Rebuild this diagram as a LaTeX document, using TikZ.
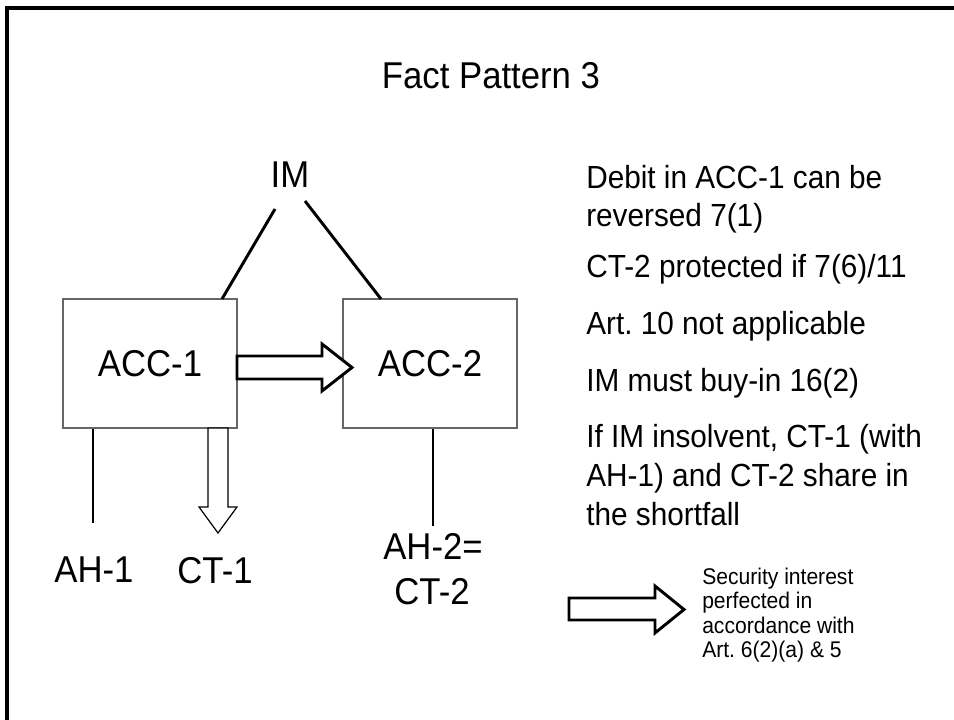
\documentclass[tikz,border=0pt]{standalone}
\usepackage{fontspec}
\setmainfont{Liberation Sans}[FakeStretch=0.93]
\frenchspacing
\begin{document}
\begin{tikzpicture}[x=0.75pt,y=-0.75pt,
  big/.style={font=\fontsize{28}{33}\selectfont, inner sep=0pt},
  note/.style={font=\fontsize{24}{28}\selectfont, inner sep=0pt, anchor=base west},
  small/.style={font=\fontsize{17}{20}\selectfont, inner sep=0pt, anchor=base west},
  acct/.style={draw=black!60, line width=0.9pt, minimum width=174*0.75pt, minimum height=129*0.75pt, inner sep=0pt, font=\fontsize{28}{33}\selectfont},
  link/.style={line width=2.2pt, black},
  fatarrow/.style={line width=2.2pt, draw=black, fill=white, line join=miter},
  thinarrow/.style={line width=0.9pt, draw=black, fill=white, line join=miter}
]
\useasboundingbox (0,0) rectangle (954,720);
% frame (top and left only)
\draw[line width=2.4pt] (7,720) -- (7,8) -- (954,8);

\node[big, anchor=base] (title) at (491,89) {Fact Pattern 3};
\node[big, anchor=base] (im) at (290,188) {IM};

\node[acct] (acc1) at (150,363.5) {ACC-1};
\node[acct] (acc2) at (430,363.5) {ACC-2};

\coordinate (imL) at (275,209);
\coordinate (imR) at (305,201);
\draw[link] (imL) -- (222,299);
\draw[link] (imR) -- (381,299);

% fat arrow ACC-1 -> ACC-2
\draw[fatarrow] (237,356) -- (322,356) -- (322,344) -- (352,367.5) -- (322,391) -- (322,379) -- (237,379) -- cycle;

% labels below
\node[big, anchor=base] (ah1) at (94,582) {AH-1};
\node[big, anchor=base] (ct1) at (215,583) {CT-1};
\node[big, anchor=base] (ah2) at (433,559) {AH-2=};
\node[big, anchor=base] (ct2) at (432,604) {CT-2};

\draw[link] (acc1.south -| 93,0) -- (93,523);
\draw[link] (acc2.south -| 433,0) -- (433,526);

% hollow down arrow to CT-1
\draw[thinarrow] (208,428) -- (228,428) -- (228,507) -- (237,507) -- (218,533) -- (199,507) -- (208,507) -- cycle;

% right notes
\node[note] (n1) at (586,189) {Debit in ACC-1 can be};
\node[note] (n2) at (586,227) {reversed 7(1)};
\node[note] (n3) at (586,278) {CT-2 protected if 7(6)/11};
\node[note] (n4) at (586,335) {Art. 10 not applicable};
\node[note] (n5) at (586,392) {IM must buy-in 16(2)};
\node[note] (n6) at (586,448) {If IM insolvent, CT-1 (with};
\node[note] (n7) at (586,487) {AH-1) and CT-2 share in};
\node[note] (n8) at (586,525) {the shortfall};

% bottom arrow and small text
\draw[fatarrow] (569,598) -- (655,598) -- (655,586) -- (684,609.5) -- (655,633) -- (655,620) -- (569,620) -- cycle;
\node[small] (s1) at (702,584) {Security interest};
\node[small] (s2) at (702,608.5) {perfected in};
\node[small] (s3) at (702,633) {accordance with};
\node[small] (s4) at (702,657) {Art. 6(2)(a) \& 5};
\end{tikzpicture}
\end{document}
